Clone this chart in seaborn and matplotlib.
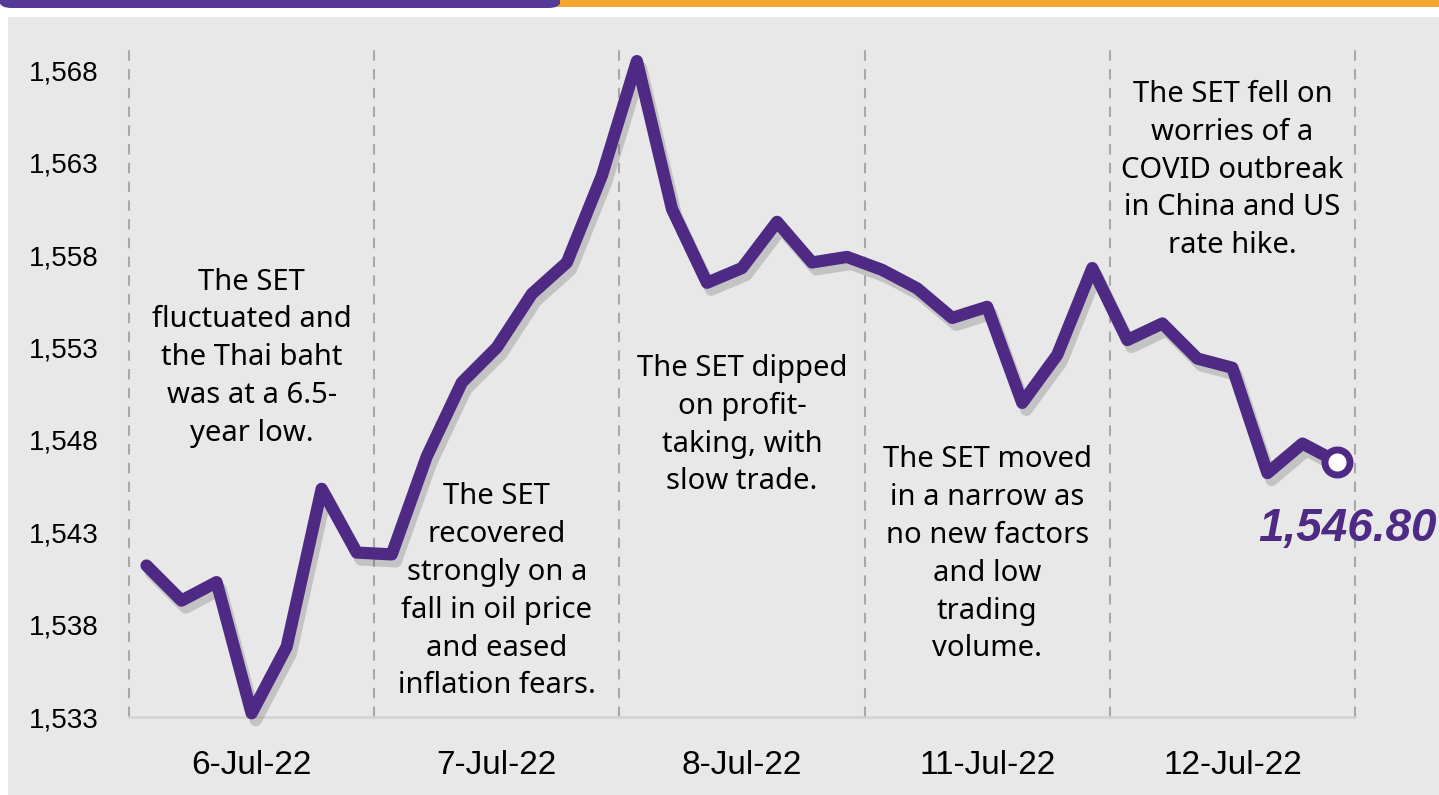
import numpy as np
import pandas as pd
import matplotlib
matplotlib.use("Agg")
import matplotlib.pyplot as plt
import matplotlib.patheffects as pe
from matplotlib.patches import Rectangle, FancyBboxPatch
import seaborn as sns

# ---------------- data ----------------
day_labels = ["6-Jul-22", "7-Jul-22", "8-Jul-22", "11-Jul-22", "12-Jul-22"]
points_per_day = 7
set_index = [
    1541.2, 1539.3, 1540.3, 1533.2, 1536.8, 1545.35, 1541.9,
    1541.8, 1547.1, 1551.1, 1553.0, 1555.9, 1557.6, 1562.3,
    1568.5, 1560.5, 1556.5, 1557.3, 1559.8, 1557.6, 1557.9,
    1557.2, 1556.2, 1554.6, 1555.2, 1550.0, 1552.6, 1557.3,
    1553.4, 1554.3, 1552.4, 1551.9, 1546.2, 1547.8, 1546.8,
]
last_label = "1,546.80"
y_ticks = [1533, 1538, 1543, 1548, 1553, 1558, 1563, 1568]
notes = [
    "The SET\nfluctuated and\nthe Thai baht\nwas at a 6.5-\nyear low.",
    "The SET\nrecovered\nstrongly on a\nfall in oil price\nand eased\ninflation fears.",
    "The SET dipped\non profit-\ntaking, with\nslow trade.",
    "The SET moved\nin a narrow as\nno new factors\nand low\ntrading\nvolume.",
    "The SET fell on\nworries of a\nCOVID outbreak\nin China and US\nrate hike.",
]
# vertical placement of the notes (value units)
note_y = [1552.45, 1539.8, 1548.8, 1541.8, 1562.6]

# ---------------- style ----------------
PURPLE = "#4e2a84"
ORANGE = "#f6a630"
PANEL = "#e8e8e8"

sns.set_theme(style="white")
plt.rcParams["font.family"] = ["Liberation Sans Narrow", "Liberation Sans", "DejaVu Sans"]

W, H = 1439, 795
fig = plt.figure(figsize=(W / 100, H / 100), dpi=100)
fig.patch.set_facecolor("white")

# background panel and top banner
fig.add_artist(Rectangle((8 / W, 0), 1 - 8 / W, (H - 17) / H, transform=fig.transFigure,
                         facecolor=PANEL, edgecolor="none", zorder=0))
fig.add_artist(Rectangle((550 / W, (H - 7) / H), 1 - 550 / W, 7 / H, transform=fig.transFigure,
                         facecolor=ORANGE, edgecolor="none", zorder=1))
fig.add_artist(FancyBboxPatch((0, (H - 8) / H), 560 / W, 8 / H, transform=fig.transFigure,
                              boxstyle="round,pad=0,rounding_size=0.008",
                              facecolor="#563896", edgecolor="none", zorder=2))
fig.add_artist(Rectangle((0, (H - 4) / H), 560 / W, 4 / H, transform=fig.transFigure,
                         facecolor="#563896", edgecolor="none", zorder=2))

ax = fig.add_axes([129 / W, (H - 717) / H, (1355 - 129) / W, (717 - 50) / H])
ax.set_facecolor(PANEL)

df = pd.DataFrame({"pos": np.arange(len(set_index)), "SET": set_index})

n = len(set_index)
# dashed separators
for b in np.arange(0, n + 1, points_per_day) - 0.5:
    ax.axvline(b, color="#a8a8a8", lw=1.5, ls=(0, (5, 4)), zorder=1)

sns.lineplot(data=df, x="pos", y="SET", ax=ax, color=PURPLE, lw=8.8,
             solid_joinstyle="round", solid_capstyle="round", zorder=3,
             path_effects=[pe.SimpleLineShadow(offset=(3, -5), shadow_color="#666666", alpha=0.28),
                           pe.Normal()])
for ln in ax.get_lines():
    ln.set_clip_on(False)

ax.plot(df["pos"].iloc[-1], df["SET"].iloc[-1], marker="o", ms=18, mfc="white",
        mec=PURPLE, mew=5, zorder=4, clip_on=False)

ax.annotate(last_label, xy=(df["pos"].iloc[-1], df["SET"].iloc[-1]),
            xytext=(7, -48), textcoords="offset points", ha="center", va="center",
            fontsize=33, fontweight="bold", fontstyle="italic", color=PURPLE,
            family=["Liberation Sans", "DejaVu Sans"], annotation_clip=False, zorder=5)

centers = np.arange(len(day_labels)) * points_per_day + (points_per_day - 1) / 2
for cx, cy, txt in zip(centers, note_y, notes):
    ax.text(cx, cy, txt, ha="center", va="center", fontsize=21, linespacing=1.4,
            family=["Noto Sans", "DejaVu Sans"], color="#000000", zorder=2)

ax.set_xlim(-0.5, n - 0.5)
ax.set_ylim(1533, 1569.1)
ax.set_xticks(centers)
ax.set_xticklabels(day_labels, fontsize=24)
ax.set_yticks(y_ticks)
ax.set_yticklabels([f"{v:,}" for v in y_ticks], fontsize=20)
ax.tick_params(axis="x", length=0, pad=24, labelcolor="black")
ax.tick_params(axis="y", length=0, pad=22, labelcolor="black")
ax.set_xlabel("")
ax.set_ylabel("")
for s in ["top", "right", "left"]:
    ax.spines[s].set_visible(False)
ax.spines["bottom"].set_color("#d2d2d2")
ax.spines["bottom"].set_linewidth(1.8)
ax.grid(False)

fig.savefig("out.png", dpi=100, facecolor=fig.get_facecolor())
